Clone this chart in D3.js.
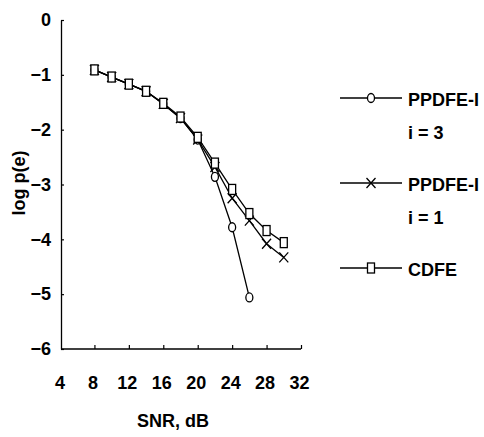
<!DOCTYPE html>
<html>
<head>
<meta charset="utf-8">
<script src="https://cdn.jsdelivr.net/npm/d3@7"></script>
<style>
  html, body { margin: 0; padding: 0; background: #fff; }
  svg { display: block; font-family: "Liberation Sans", Arial, Helvetica, sans-serif; }
</style>
</head>
<body>
<svg id="chart" width="484" height="437"></svg>
<script>
// ---- data ----
const snrCDFE  = [8, 10, 12, 14, 16, 18, 20, 22, 24, 26, 28, 30];
const cdfe     = [-0.91, -1.04, -1.17, -1.30, -1.52, -1.77, -2.14, -2.61, -3.09, -3.53, -3.84, -4.06];
const snrI1    = [8, 10, 12, 14, 16, 18, 20, 22, 24, 26, 28, 30];
const ppdfeI1  = [-0.91, -1.04, -1.17, -1.30, -1.53, -1.79, -2.18, -2.68, -3.25, -3.66, -4.08, -4.33];
const snrI3    = [8, 10, 12, 14, 16, 18, 20, 22, 24, 26];
const ppdfeI3  = [-0.91, -1.04, -1.17, -1.30, -1.53, -1.79, -2.18, -2.86, -3.78, -5.06];
const xTicks   = [4, 8, 12, 16, 20, 24, 28, 32];
const yTicks   = [0, -1, -2, -3, -4, -5, -6];
const legendLabels = [["PPDFE-I", "i = 3"], ["PPDFE-I", "i = 1"], ["CDFE"]];

// ---- layout ----
const svg = d3.select("#chart");
const x = d3.scaleLinear().domain([4, 32]).range([60, 301]);
const y = d3.scaleLinear().domain([-6, 0]).range([349, 20]);

const fontTick = 18;

// axes
const yAxis = d3.axisLeft(y).tickValues(yTicks).tickFormat(d3.format("d"))
  .tickSizeInner(-3).tickSizeOuter(0).tickPadding(10);
const gy = svg.append("g").attr("transform", `translate(61,0)`).call(yAxis);
const xAxis = d3.axisBottom(x).tickValues(xTicks.slice(1)).tickFormat(d3.format("d"))
  .tickSizeInner(-4).tickSizeOuter(0).tickPadding(27);
const gx = svg.append("g").attr("transform", `translate(0,${y(-6)})`).call(xAxis);
gx.append("text").attr("x", x(4)).attr("y", 27).attr("dy", "0.71em")
  .attr("text-anchor", "middle").attr("fill", "#000").text(xTicks[0]);
gx.select(".domain").attr("d", `M61,0H${x(32)}`);

[gx, gy].forEach(g => {
  g.select(".domain").attr("stroke", "#000").attr("stroke-width", 1.3);
  g.selectAll(".tick line").attr("stroke", "#000").attr("stroke-width", 1.2);
  g.selectAll("text").attr("fill", "#000")
    .style("font-size", fontTick + "px").style("font-weight", "bold")
    .style("font-family", '"Liberation Sans", Arial, sans-serif');
});
gx.selectAll(".tick text").attr("dx", -2);

// axis titles
svg.append("text").attr("x", 173).attr("y", 427).attr("text-anchor", "middle")
  .style("font-size", "18px").style("font-weight", "bold").text("SNR, dB");
svg.append("text").attr("transform", "translate(25,183) rotate(-90)")
  .attr("text-anchor", "middle").style("font-size", "18px").style("font-weight", "bold")
  .text("log p(e)");

// series
const line = d3.line().x(d => x(d[0])).y(d => y(d[1]));
const zip = (a, b) => a.map((v, i) => [v, b[i]]);

const sw = 1.3;
function drawCircle(g, cx, cy) {
  g.append("ellipse").attr("cx", cx).attr("cy", cy).attr("rx", 3.5).attr("ry", 4.5)
    .attr("fill", "#fff").attr("stroke", "#000").attr("stroke-width", sw);
}
function drawX(g, cx, cy) {
  g.append("path").attr("d", `M${cx-4.5},${cy-5}L${cx+4.5},${cy+5}M${cx+4.5},${cy-5}L${cx-4.5},${cy+5}`)
    .attr("fill", "none").attr("stroke", "#000").attr("stroke-width", sw);
}
function drawSquare(g, cx, cy) {
  g.append("rect").attr("x", cx - 3.5).attr("y", cy - 5).attr("width", 7).attr("height", 10)
    .attr("fill", "#fff").attr("stroke", "#000").attr("stroke-width", sw);
}

const series = [
  { pts: zip(snrI3, ppdfeI3), marker: drawCircle },
  { pts: zip(snrI1, ppdfeI1), marker: drawX },
  { pts: zip(snrCDFE, cdfe), marker: drawSquare }
];

series.forEach(s => {
  const g = svg.append("g");
  g.append("path").datum(s.pts).attr("d", line)
    .attr("fill", "none").attr("stroke", "#000").attr("stroke-width", sw);
  s.pts.forEach(p => s.marker(g, x(p[0]), y(p[1])));
});

// legend
const legY = [98, 183, 268];
const markers = [drawCircle, drawX, drawSquare];
legY.forEach((ly, i) => {
  const g = svg.append("g");
  g.append("line").attr("x1", 340).attr("x2", 402).attr("y1", ly).attr("y2", ly)
    .attr("stroke", "#000").attr("stroke-width", sw);
  markers[i](g, 371, ly);
  legendLabels[i].forEach((t, j) => {
    g.append("text").attr("x", 408).attr("y", ly + 8 + j * 33)
      .style("font-size", "18px").style("font-weight", "bold").text(t);
  });
});
</script>
</body>
</html>
